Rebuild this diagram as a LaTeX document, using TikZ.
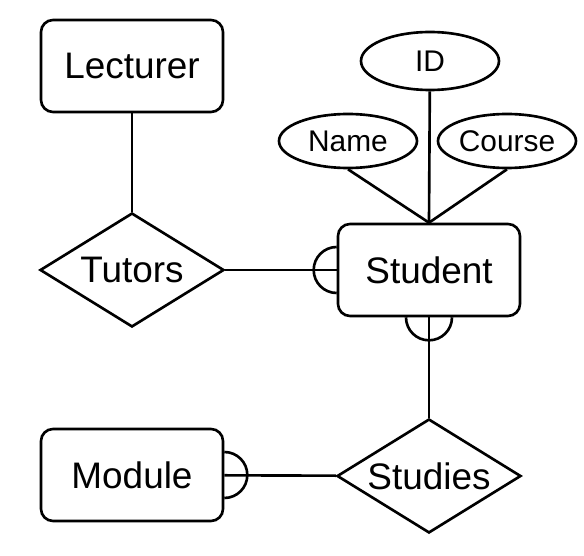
\documentclass[tikz,border=0pt]{standalone}
\usepackage{fontspec}
\setmainfont{Liberation Sans}
\usetikzlibrary{shapes.geometric}
\tikzset{E node/.style={rectangle,rounded corners=0.24cm,draw,line width=1.5pt,minimum width=3.64cm,minimum height=1.84cm,inner sep=0pt,font=\fontsize{21}{24}\selectfont},
	R node/.style={diamond,draw,line width=1.5pt,aspect=1.61,minimum width=3.68cm,minimum height=2.28cm,inner sep=0pt,font=\fontsize{21}{24}\selectfont},
	A node/.style={ellipse,draw,line width=1.5pt,minimum width=2.76cm,minimum height=1.08cm,inner sep=0pt,font=\fontsize{17}{20}\selectfont},}

\begin{document}
\begin{tikzpicture}
			\useasboundingbox (0, 0) rectangle (11.68, -11.12);

			\node[E node] (lecturer) at (2.64, -1.32) {Lecturer};
			\node[E node] (student) at (8.58, -5.40) {Student};
			\node[E node] (module) at (2.64, -9.50) {Module};
			\node[R node] (tutors) at (2.64, -5.40) {Tutors};
			\node[R node] (studies) at (8.58, -9.52) {Studies};
			\node[A node, minimum height=1.16cm] (id) at (8.60, -1.22) {ID};
			\node[A node] (name) at (6.96, -2.82) {Name};
			\node[A node] (course) at (10.14, -2.82) {Course};

			\path[draw, line width=1.5pt]
				(lecturer) edge (tutors)
				(tutors) edge (student)
				(student) edge (studies)
				(studies) edge (module)
				(id) edge (student.north)
				(name.south) edge (student.north)
				(course.south) edge (student.north);

			% half circles on the entity ends
			\draw[line width=1.5pt] ([yshift=0.46cm]student.west) arc (90:270:0.46cm);
			\draw[line width=1.5pt] ([xshift=-0.46cm]student.south) arc (180:360:0.46cm);
			\draw[line width=1.5pt] ([yshift=0.46cm]module.east) arc (90:-90:0.46cm);
		\end{tikzpicture}
\end{document}
